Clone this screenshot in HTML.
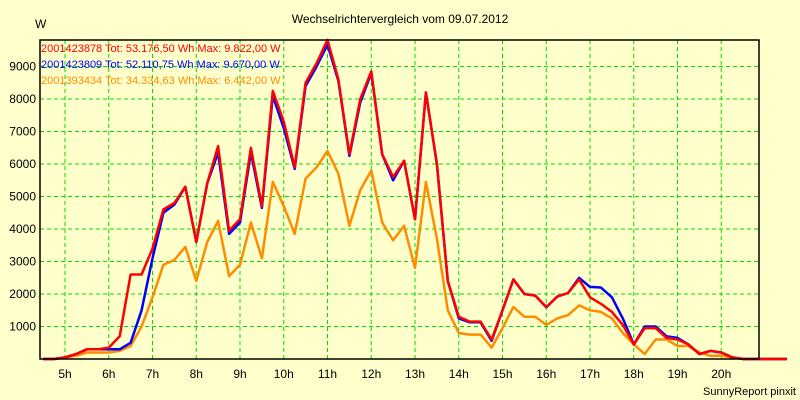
<!DOCTYPE html>
<html><head><meta charset="utf-8"><style>
html,body{margin:0;padding:0;background:#ffffcc;}
svg{display:block;font-family:"Liberation Sans",sans-serif;}
</style></head><body>
<svg id="chart" width="800" height="400">
<rect x="0" y="0" width="800" height="400" fill="#ffffcc"/>
<text x="400" y="23" text-anchor="middle" font-size="12">Wechselrichtervergleich vom 09.07.2012</text>
<text x="35" y="28" font-size="12">W</text>
<text x="796" y="395" text-anchor="end" font-size="11">SunnyReport pinxit</text>
<g id="grid"></g>
<g id="ylabels"></g>
<g id="xlabels"></g>
<g id="series"></g>
<rect x="40" y="40" width="719" height="319" fill="none" stroke="#000" stroke-width="1.5"/>
<g id="legend"></g>
</svg>
<script>
const hourTicks = ["5h","6h","7h","8h","9h","10h","11h","12h","13h","14h","15h","16h","17h","18h","19h","20h"];
const yTicks = [1000,2000,3000,4000,5000,6000,7000,8000,9000];
const legendLabels = ["2001423878 Tot: 53.176,50 Wh Max: 9.822,00 W","2001423809 Tot: 52.110,75 Wh Max: 9.670,00 W","2001393434 Tot: 34.334,63 Wh Max: 6.442,00 W"];
const startHour = 4.5; // first sample at 4:30, 15-min steps
const seriesRed = [0,0,50,150,300,300,350,700,2600,2600,3400,4600,4800,5300,3600,5400,6550,3950,4300,6500,4700,8250,7300,5900,8500,9100,9820,8600,6300,8000,8850,6300,5600,6100,4300,8200,6000,2400,1300,1150,1150,600,1500,2450,2000,1950,1600,1920,2030,2450,1900,1700,1450,1050,450,950,950,650,600,450,150,250,200,50,0,0,0,0,0];
const seriesBlue = [0,0,50,150,300,300,300,300,500,1500,3100,4500,4750,5300,3600,5400,6350,3850,4200,6350,4650,8100,7100,5850,8400,9000,9670,8550,6250,7900,8800,6300,5500,6100,4300,8200,6000,2400,1250,1130,1130,560,1500,2450,2000,1950,1590,1920,2030,2500,2220,2200,1900,1250,450,1000,1000,700,650,450,150,250,200,50,0,0,0,0,0];
const seriesOrange = [0,0,50,100,200,200,200,250,400,1000,1900,2900,3050,3450,2400,3600,4250,2550,2900,4200,3100,5450,4700,3850,5550,5900,6400,5700,4100,5200,5800,4200,3650,4100,2800,5450,3700,1500,800,750,750,350,950,1600,1300,1300,1050,1250,1350,1650,1500,1450,1250,800,450,150,600,600,400,400,200,100,100,50,0,0,0,0,0];
const seriesColors = ["#ff0000","#0000ff","#ff8c00"];

const NS="http://www.w3.org/2000/svg";
function xPos(h){return 65+(h-5)*43.75;}
function yPos(v){return 359-v*0.0325;}
function mk(tag,attrs,parent){const e=document.createElementNS(NS,tag);for(const k in attrs)e.setAttribute(k,attrs[k]);parent.appendChild(e);return e;}
const grid=document.getElementById('grid'),yl=document.getElementById('ylabels'),xl=document.getElementById('xlabels'),sg=document.getElementById('series'),lg=document.getElementById('legend');
yTicks.forEach(v=>{
  const l=mk('line',{x1:40,x2:759,y1:yPos(v),y2:yPos(v),stroke:'#00dd00','stroke-dasharray':'4,3','stroke-width':1},grid);
  
  
  const t=mk('text',{x:36,y:yPos(v)+4,'text-anchor':'end','font-size':12},yl);
  t.textContent=v;
  
  
});
hourTicks.forEach((s,i)=>{
  const h=5+i;
  const l=mk('line',{x1:xPos(h),x2:xPos(h),y1:40,y2:359,stroke:'#00dd00','stroke-dasharray':'4,3','stroke-width':1},grid);
  
  
  const t=mk('text',{x:xPos(h),y:378,'text-anchor':'middle','font-size':12},xl);
  t.textContent=s;
  
  
});
[seriesOrange,seriesBlue,seriesRed].forEach((arr,k)=>{
  const idx=[2,1,0][k];
  const pts=arr.map((v,i)=>xPos(startHour+i*0.25).toFixed(1)+','+yPos(v).toFixed(1)).join(' ');
  const p=mk('polyline',{points:pts,fill:'none',stroke:seriesColors[idx],'stroke-width':2.5,'stroke-linejoin':'round'},sg);
  
  
});
legendLabels.forEach((s,i)=>{
  const t=mk('text',{x:41,y:52+i*16,'font-size':11,fill:seriesColors[i]},lg);
  t.textContent=s;
  
  
});
</script>
</body></html>
